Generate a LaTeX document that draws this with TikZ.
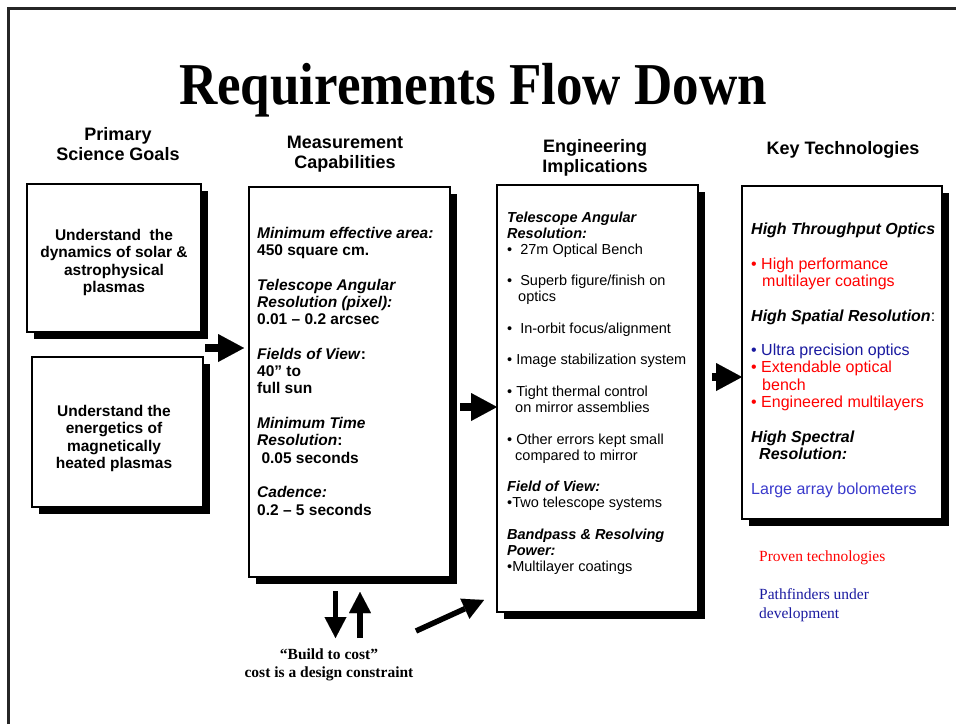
\documentclass[tikz,border=0pt]{standalone}
\usepackage{fontspec}
\setmainfont{Liberation Sans}
\newfontfamily\timesfont{Liberation Serif}
\usetikzlibrary{arrows.meta}
\usetikzlibrary{shadows}

\definecolor{provred}{RGB}{255,0,0}
\definecolor{pathnavy}{RGB}{26,26,160}
\definecolor{pathblue}{RGB}{58,58,204}

\newcommand{\bi}[1]{\textbf{\textit{#1}}}

\tikzset{
  sbox/.style={draw, line width=2.5pt, fill=white, inner sep=0pt, outer sep=0pt,
    drop shadow={shadow xshift=6.5pt, shadow yshift=-6.5pt, opacity=1, fill=black}},
  colhead/.style={font=\bfseries\fontsize{18}{20}\selectfont, align=center, anchor=base},
  goaltext/.style={font=\bfseries\fontsize{15.5}{17.3}\selectfont, align=center, anchor=base},
  boxtext/.style={anchor=base west, align=left, inner sep=0pt},
  fatarrow/.style={line width=8pt, -{Triangle[length=26pt,width=28pt,line width=0.01pt]}},
  smallarrow/.style={line width=5.5pt, -{Triangle[length=21pt,width=22pt,line width=0.01pt]}},
}

\begin{document}
\begin{tikzpicture}[x=1pt, y=-1pt]
\useasboundingbox (0,0) rectangle (956,724);
\draw[line width=2.5pt, black!85] (8.5,724) -- (8.5,8.5) -- (956,8.5);

\node[anchor=base, font=\timesfont\bfseries\fontsize{53}{60}\selectfont] (title) at (473,104)
  {\scalebox{1}[1.12]{Requirements Flow Down}};

% column headings (base = last line)
\node[colhead] (hgoals) at (118,160) {Primary\\Science Goals};
\node[colhead] (hmeas) at (345,168) {Measurement\\Capabilities};
\node[colhead] (heng) at (595,172) {Engineering\\Implications};
\node[colhead] (hkey) at (843,154) {Key Technologies};

% boxes
\node[sbox, minimum width=174pt, minimum height=148pt] (goalA) at (114,258) {};
\node[sbox, minimum width=171pt, minimum height=150pt] (goalB) at (117.5,432) {};
\node[sbox, minimum width=201pt, minimum height=390pt] (meas) at (349.5,382) {};
\node[sbox, minimum width=201pt, minimum height=427pt] (eng) at (597.5,398.5) {};
\node[sbox, minimum width=200pt, minimum height=333pt] (key) at (842,352.5) {};

\node[goaltext] (goalAtext) at (114,292.5)
  {Understand\ \ the\\dynamics of solar \&\\astrophysical\\plasmas};
\node[goaltext] (goalBtext) at (114,468.5)
  {Understand the\\energetics of\\magnetically\\heated plasmas};

\node[boxtext, font=\bfseries\fontsize{15.5}{17.3}\selectfont] (meastext) at (257,515)
  {\textit{Minimum effective area:}\\
   450 square cm.\\[17.3pt]
   \textit{Telescope Angular}\\
   \textit{Resolution (pixel):}\\
   0.01 – 0.2 arcsec\\[17.3pt]
   \textit{Fields of View}:\\
   40” to\\
   full sun\\[17.3pt]
   \textit{Minimum Time}\\
   \textit{Resolution}:\\
   \ 0.05 seconds\\[17.3pt]
   \textit{Cadence:}\\
   0.2 – 5 seconds};

\node[boxtext, font=\fontsize{14.5}{15.85}\selectfont] (engtext) at (507,571)
  {\bi{Telescope Angular}\\
   \bi{Resolution:}\\
   •\ \ 27m Optical Bench\\[15.85pt]
   •\ \ Superb figure/finish on\\
   \hspace*{11pt}optics\\[15.85pt]
   •\ \ In-orbit focus/alignment\\[15.85pt]
   • Image stabilization system\\[15.85pt]
   • Tight thermal control\\
   \hspace*{8pt}on mirror assemblies\\[15.85pt]
   • Other errors kept small\\
   \hspace*{8pt}compared to mirror\\[15.85pt]
   \bi{Field of View:}\\
   •Two telescope systems\\[15.85pt]
   \bi{Bandpass \& Resolving}\\
   \bi{Power:}\\
   •Multilayer coatings};

\node[boxtext, font=\fontsize{16}{17.3}\selectfont] (keytext) at (751,494)
  {\bi{High Throughput Optics}\\[17.3pt]
   {\color{provred}• High performance}\\
   {\color{provred}\hspace*{11pt}multilayer coatings}\\[17.3pt]
   \bi{High Spatial Resolution}:\\[17.3pt]
   {\color{pathnavy}• Ultra precision optics}\\
   {\color{provred}• Extendable optical}\\
   {\color{provred}\hspace*{11pt}bench}\\
   {\color{provred}• Engineered multilayers}\\[17.3pt]
   \bi{High Spectral}\\
   \hspace*{8pt}\bi{Resolution:}\\[17.3pt]
   {\color{pathblue}Large array bolometers}};

% legend
\node[boxtext, text=provred, font=\timesfont\fontsize{15.5}{19}\selectfont] (proven) at (759,561) {Proven technologies};
\node[boxtext, text=pathnavy, font=\timesfont\fontsize{15.5}{19}\selectfont] (pathf) at (759,618) {Pathfinders under\\development};

\node[anchor=base, align=center, font=\timesfont\bfseries\fontsize{15.5}{18}\selectfont] (cost) at (329,677)
  {“Build to cost”\\cost is a design constraint};

% flow arrows
\coordinate (gout) at (205,348);
\coordinate (mout) at (460,407);
\coordinate (eout) at (712,377);
\draw[fatarrow, shorten >=5pt] (gout) -- (gout -| meas.west);
\draw[fatarrow] (mout) -- (mout -| eng.west);
\draw[fatarrow] (eout) -- (eout -| key.west);

\coordinate (cdn) at (335.5,591);
\coordinate (cup) at (360,638);
\coordinate (ctail) at (416,631);
\coordinate (ctip) at (484,600);
\draw[smallarrow] (cdn) -- ++(0,47);
\draw[smallarrow] (cup) -- ++(0,-46);
\draw[smallarrow] (ctail) -- (ctip);

\end{tikzpicture}
\end{document}
